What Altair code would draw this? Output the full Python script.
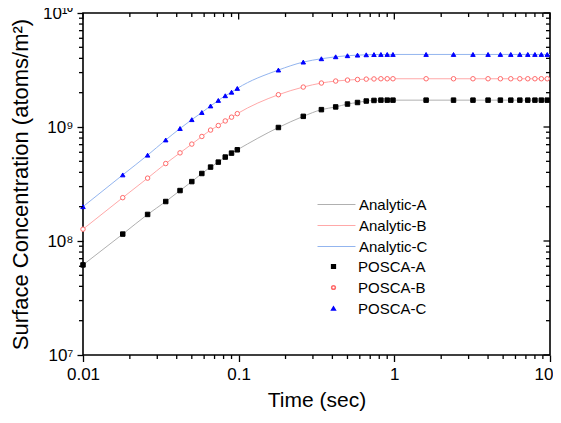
import altair as alt
import pandas as pd

# ---- data ----
posca_t = [0.01, 0.018, 0.026, 0.034, 0.042, 0.05, 0.058, 0.066, 0.074, 0.082, 0.09, 0.098,
           0.18, 0.26, 0.34, 0.42, 0.5, 0.58, 0.66, 0.74, 0.82, 0.9, 0.98,
           1.6, 2.4, 3.2, 4.0, 4.8, 5.6, 6.4, 7.2, 8.0, 8.8, 9.6]
posca_a = [6.17e7, 1.15e8, 1.71e8, 2.22e8, 2.77e8, 3.32e8, 3.91e8, 4.45e8, 4.92e8, 5.45e8, 5.90e8, 6.31e8,
           9.9e8, 1.24e9, 1.42e9, 1.50e9, 1.59e9, 1.64e9, 1.69e9, 1.71e9, 1.72e9, 1.72e9, 1.72e9,
           1.72e9, 1.72e9, 1.72e9, 1.72e9, 1.72e9, 1.72e9, 1.72e9, 1.72e9, 1.72e9, 1.72e9, 1.72e9]
posca_b = [1.27e8, 2.40e8, 3.56e8, 4.78e8, 5.93e8, 7.08e8, 8.26e8, 9.40e8, 1.03e9, 1.13e9, 1.22e9, 1.31e9,
           1.92e9, 2.24e9, 2.43e9, 2.53e9, 2.58e9, 2.61e9, 2.63e9, 2.64e9, 2.65e9, 2.65e9, 2.65e9,
           2.65e9, 2.65e9, 2.65e9, 2.65e9, 2.65e9, 2.65e9, 2.65e9, 2.65e9, 2.65e9, 2.65e9, 2.65e9]
posca_c = [2.00e8, 3.80e8, 5.66e8, 7.70e8, 9.70e8, 1.16e9, 1.34e9, 1.53e9, 1.71e9, 1.88e9, 2.02e9, 2.18e9,
           3.16e9, 3.71e9, 3.97e9, 4.13e9, 4.22e9, 4.27e9, 4.30e9, 4.32e9, 4.33e9, 4.33e9, 4.33e9,
           4.33e9, 4.33e9, 4.33e9, 4.33e9, 4.33e9, 4.33e9, 4.33e9, 4.33e9, 4.33e9, 4.33e9, 4.33e9]

analytic_t = posca_t + [10.0]
analytic_a = posca_a + [1.72e9]
analytic_b = posca_b + [2.65e9]
analytic_c = posca_c + [4.33e9]

line_names = ["Analytic-A", "Analytic-B", "Analytic-C"]
point_names = ["POSCA-A", "POSCA-B", "POSCA-C"]

x_major = [0.01, 0.1, 1, 10]
x_minor = [m * d for d in [0.01, 0.1, 1] for m in range(2, 10)]
y_major = [1e7, 1e8, 1e9, 1e10]
y_minor = [m * d for d in [1e7, 1e8, 1e9] for m in range(2, 10)]

line_df = pd.concat([
    pd.DataFrame({"t": analytic_t, "v": vals, "series": name})
    for name, vals in zip(line_names, [analytic_a, analytic_b, analytic_c])
])
point_df = pd.concat([
    pd.DataFrame({"t": posca_t, "v": vals, "pseries": name})
    for name, vals in zip(point_names, [posca_a, posca_b, posca_c])
])
xmaj_df = pd.DataFrame({"t": x_major})
xmin_df = pd.DataFrame({"t": x_minor})
ymaj_df = pd.DataFrame({"v": y_major})
ymin_df = pd.DataFrame({"v": y_minor})

W, H = 467, 342
FONT = "Liberation Sans"
MAJ, MIN, TW = 6.5, 4, 1.3

xscale = alt.Scale(type="log", domain=[0.01, 10], nice=False)
yscale = alt.Scale(type="log", domain=[1e7, 1e10], nice=False)

x_label_axis = alt.Axis(orient="bottom", values=x_major, format="~g", ticks=True, tickSize=MAJ,
                        tickWidth=TW, tickColor="black", domain=False,
                        grid=False, labelFontSize=17, labelColor="black", labelPadding=5,
                        labelAlign={"condition": {"test": "datum.value >= 10", "value": "right"},
                                    "value": "center"},
                        labelOffset={"condition": {"test": "datum.value >= 10", "value": 3},
                                     "value": 0},
                        labelFlush=False, labelOverlap=False, labelBound=False, labelFont=FONT,
                        title="Time (sec)", titleFontSize=21, titleFontWeight="normal",
                        titleColor="black", titlePadding=7, titleFont=FONT)
y_label_axis = alt.Axis(orient="left", values=y_major, ticks=True, tickSize=6, tickWidth=TW,
                        tickColor="black", domain=False, grid=False,
                        labelExpr="round(log(datum.value)/LN10) == 7 ? '10⁷' : round(log(datum.value)/LN10) == 8 ? '10⁸' : round(log(datum.value)/LN10) == 9 ? '10⁹' : '10¹⁰'",
                        labelFontSize=17, labelColor="black", labelPadding=4, labelFlush=False,
                        labelOverlap=False, labelBound=False, labelFont=FONT,
                        title="Surface Concentration (atoms/m²)", titleFontSize=22,
                        titleFontWeight="normal", titleColor="black", titlePadding=10,
                        titleFont=FONT)

line_legend = alt.Legend(orient="none", legendX=246, legendY=184, title=None,
                         symbolType="M-4,0H4", symbolSize=90, symbolStrokeWidth=1,
                         labelFontSize=15, labelFont=FONT, labelColor="black",
                         labelOffset=15, rowPadding=5, padding=0)
point_legend = alt.Legend(orient="none", legendX=243, legendY=246, title=None,
                          symbolSize=14, labelFontSize=15, labelFont=FONT, labelColor="black",
                          labelOffset=17, rowPadding=5, padding=0)

X = alt.X("t:Q", scale=xscale, axis=x_label_axis)
Y = alt.Y("v:Q", scale=yscale, axis=y_label_axis)

lines = alt.Chart(line_df).mark_line(interpolate="monotone", strokeWidth=1).encode(
    x=X, y=Y,
    color=alt.Color("series:N", scale=alt.Scale(domain=line_names,
                                                range=["#b0b0b0", "#ffa8a8", "#93b5ef"]),
                    legend=line_legend),
    detail="series:N",
)

points = alt.Chart(point_df).mark_point(opacity=1, strokeWidth=1).encode(
    x=X, y=Y,
    shape=alt.Shape("pseries:N", scale=alt.Scale(domain=point_names,
                                                 range=["square", "circle", "triangle-up"]),
                    legend=point_legend),
    fill=alt.Fill("pseries:N", scale=alt.Scale(domain=point_names,
                                               range=["#000000", "#ffffff", "#0000ff"]),
                  legend=point_legend),
    stroke=alt.Stroke("pseries:N", scale=alt.Scale(domain=point_names,
                                                   range=["#000000", "#ff6a6a", "#0000ff"]),
                      legend=point_legend),
    size=alt.value(20),
)


def xticks(df, y0, y1):
    return alt.Chart(df).mark_rule(color="black", strokeWidth=TW).encode(
        x=X, y=alt.value(y0), y2=alt.value(y1))


def yticks(df, x0, x1):
    return alt.Chart(df).mark_rule(color="black", strokeWidth=TW).encode(
        y=Y, x=alt.value(x0), x2=alt.value(x1))


tick_layers = [
    xticks(xmin_df, H, H + MIN),        # bottom minor (outward)
    xticks(xmaj_df, 0, MAJ),            # top major (inward)
    xticks(xmin_df, 0, MIN),            # top minor (inward)
    yticks(ymin_df, 0, -MIN),           # left minor (outward)
    yticks(ymaj_df, W, W - MAJ),        # right major (inward)
    yticks(ymin_df, W, W - MIN),        # right minor (inward)
]

chart = alt.layer(lines, points, *tick_layers).properties(
    width=W, height=H,
    autosize=alt.AutoSizeParams(type="none"),
    padding={"left": 75, "top": 5, "right": 3, "bottom": 60},
).configure_view(stroke="black", strokeWidth=1.6)

chart.save("out.html", embed_options={"renderer": "svg", "actions": False})
